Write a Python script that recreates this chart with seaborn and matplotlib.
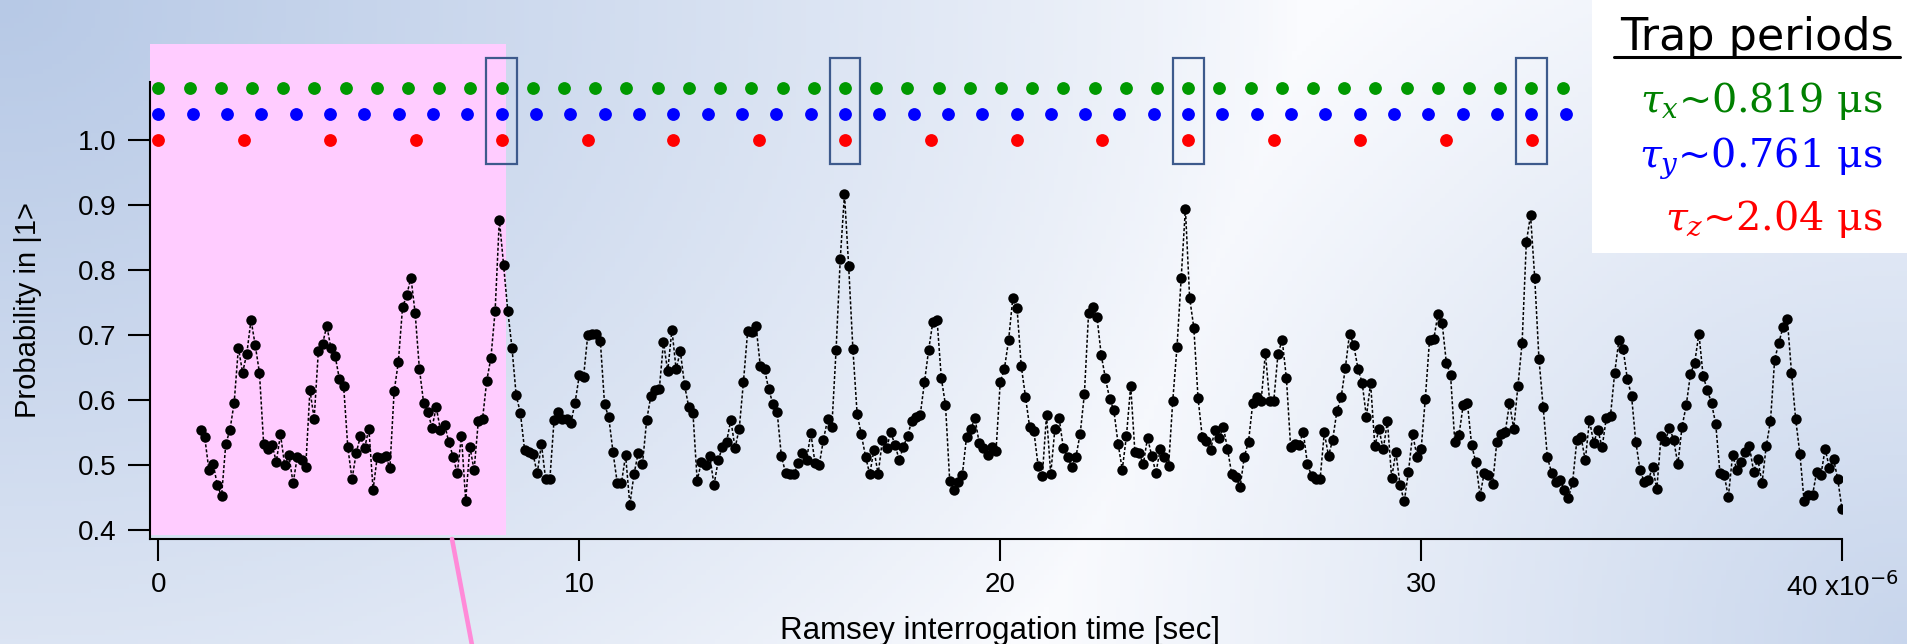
import numpy as np
import matplotlib
matplotlib.use("Agg")
import matplotlib.pyplot as plt
import seaborn as sns
from matplotlib.patches import Rectangle
from matplotlib.lines import Line2D

# measured probability in |1>, one point every 0.1 us starting at 1.0 us
t_start, t_step = 1.0, 0.1
prob = [
    0.553, 0.543, 0.492, 0.502, 0.469, 0.452, 0.532, 0.554, 0.596, 0.680,
    0.642, 0.671, 0.723, 0.684, 0.642, 0.533, 0.524, 0.531, 0.505, 0.547,
    0.500, 0.515, 0.472, 0.513, 0.507, 0.497, 0.615, 0.571, 0.675, 0.686,
    0.714, 0.679, 0.667, 0.632, 0.622, 0.527, 0.478, 0.519, 0.544, 0.526,
    0.556, 0.462, 0.513, 0.510, 0.514, 0.495, 0.613, 0.658, 0.742, 0.761,
    0.788, 0.733, 0.648, 0.596, 0.582, 0.557, 0.589, 0.554, 0.562, 0.535,
    0.513, 0.487, 0.545, 0.445, 0.528, 0.492, 0.567, 0.570, 0.629, 0.665,
    0.737, 0.877, 0.808, 0.737, 0.680, 0.607, 0.580, 0.523, 0.520, 0.517,
    0.487, 0.532, 0.478, 0.478, 0.569, 0.582, 0.570, 0.570, 0.565, 0.596,
    0.638, 0.635, 0.699, 0.702, 0.702, 0.690, 0.593, 0.573, 0.520, 0.473,
    0.472, 0.515, 0.439, 0.486, 0.519, 0.501, 0.569, 0.606, 0.615, 0.616,
    0.689, 0.644, 0.708, 0.647, 0.675, 0.623, 0.589, 0.580, 0.476, 0.505,
    0.500, 0.514, 0.469, 0.507, 0.528, 0.536, 0.569, 0.526, 0.556, 0.628,
    0.706, 0.705, 0.713, 0.652, 0.648, 0.616, 0.594, 0.582, 0.514, 0.488,
    0.486, 0.486, 0.503, 0.518, 0.508, 0.549, 0.503, 0.500, 0.539, 0.570,
    0.559, 0.676, 0.817, 0.916, 0.805, 0.678, 0.579, 0.547, 0.513, 0.486,
    0.523, 0.486, 0.538, 0.526, 0.550, 0.531, 0.508, 0.528, 0.545, 0.568,
    0.573, 0.577, 0.627, 0.677, 0.720, 0.723, 0.634, 0.592, 0.476, 0.461,
    0.474, 0.485, 0.543, 0.555, 0.572, 0.534, 0.526, 0.515, 0.528, 0.521,
    0.627, 0.648, 0.692, 0.757, 0.741, 0.652, 0.605, 0.558, 0.552, 0.499,
    0.483, 0.577, 0.486, 0.556, 0.572, 0.526, 0.513, 0.497, 0.513, 0.548,
    0.609, 0.734, 0.742, 0.727, 0.669, 0.633, 0.602, 0.584, 0.533, 0.493,
    0.545, 0.622, 0.520, 0.518, 0.501, 0.542, 0.514, 0.488, 0.524, 0.512,
    0.498, 0.599, 0.681, 0.787, 0.894, 0.757, 0.711, 0.603, 0.543, 0.537,
    0.523, 0.554, 0.541, 0.559, 0.525, 0.486, 0.482, 0.466, 0.513, 0.536,
    0.595, 0.604, 0.599, 0.672, 0.599, 0.599, 0.671, 0.692, 0.633, 0.528,
    0.532, 0.531, 0.551, 0.501, 0.483, 0.478, 0.478, 0.550, 0.514, 0.539,
    0.583, 0.604, 0.649, 0.702, 0.684, 0.648, 0.626, 0.574, 0.626, 0.529,
    0.555, 0.524, 0.567, 0.480, 0.520, 0.469, 0.444, 0.490, 0.548, 0.513,
    0.524, 0.602, 0.692, 0.693, 0.732, 0.718, 0.657, 0.638, 0.536, 0.546,
    0.592, 0.595, 0.531, 0.504, 0.453, 0.488, 0.485, 0.471, 0.536, 0.547,
    0.551, 0.595, 0.556, 0.621, 0.688, 0.842, 0.884, 0.787, 0.663, 0.589,
    0.512, 0.488, 0.474, 0.477, 0.462, 0.449, 0.474, 0.538, 0.543, 0.507,
    0.569, 0.534, 0.554, 0.527, 0.572, 0.576, 0.642, 0.692, 0.678, 0.632,
    0.606, 0.536, 0.493, 0.474, 0.477, 0.497, 0.463, 0.544, 0.537, 0.557,
    0.539, 0.501, 0.559, 0.592, 0.640, 0.657, 0.702, 0.637, 0.615, 0.595,
    0.563, 0.488, 0.485, 0.451, 0.515, 0.493, 0.504, 0.520, 0.529, 0.490,
    0.509, 0.472, 0.529, 0.567, 0.662, 0.688, 0.712, 0.725, 0.642, 0.570,
    0.517, 0.444, 0.454, 0.454, 0.490, 0.485, 0.525, 0.495, 0.509, 0.478,
    0.432,
]
times = t_start + t_step * np.arange(len(prob))

# rows of markers at multiples of the trap periods (as drawn in the figure)
row_periods = [0.7414, 0.8155, 2.039]
row_levels = [1.079, 1.040, 1.000]
row_last = [33.5, 34.3, 32.7]
row_colors = ["#009900", "#0000ff", "#ff0000"]

# coincidence boxes
box_centers = [8.155, 16.31, 24.465, 32.62]
box_width = 0.73
box_y = (0.963, 1.125)

# shaded region
shade_x = (-0.2, 8.25)
shade_y = (0.3925, 1.147)

trap_title = "Trap periods"
trap_labels = [r"$\tau_x$~0.819 μs", r"$\tau_y$~0.761 μs", r"$\tau_z$~2.04 μs"]
trap_colors = ["#008000", "#0000ff", "#ff0000"]

xticks = [0, 10, 20, 30, 40]
xticklabels = ["0", "10", "20", "30", r"40 x10$^{-6}$"]
yticks = [0.4, 0.5, 0.6, 0.7, 0.8, 0.9, 1.0]

W, H = 1907, 644
sns.set_theme(style="ticks")
plt.rcParams["font.family"] = ["Liberation Sans", "DejaVu Sans"]

fig = plt.figure(figsize=(W / 100, H / 100), dpi=100)

# background gradient
u, v = np.meshgrid(np.linspace(0, 1, 400), np.linspace(0, 1, 140))
w_tl = np.clip(1 - np.sqrt((u / 0.68) ** 2 + (v / 1.6) ** 2), 0, 1) ** 0.8
w_br = 0.75 * np.clip(1 - np.sqrt(((1 - u) / 0.45) ** 2 + ((1 - v) / 1.3) ** 2), 0, 1)
w = np.maximum(w_tl, w_br)[..., None]
base = np.array([250, 251, 254]) / 255
blue = np.array([183, 201, 230]) / 255
grad = base * (1 - w) + blue * w
bg = fig.add_axes([0, 0, 1, 1], zorder=-10)
bg.imshow(grad, extent=(0, 1, 0, 1), aspect="auto", origin="upper")
bg.axis("off")

ylo, yhi = 0.3863, 1.15
ax = fig.add_axes([150 / W, (H - 539) / H, 1692 / W, 497.1 / H])
ax.set_facecolor("none")

ax.add_patch(Rectangle((shade_x[0], shade_y[0]), shade_x[1] - shade_x[0],
                       shade_y[1] - shade_y[0], facecolor="#ffccff",
                       edgecolor="none", zorder=0.5, clip_on=False))

sns.lineplot(x=times, y=prob, ax=ax, color="black", lw=1.1,
             linestyle=(0, (2.0, 1.3)), marker="o", markersize=7.5,
             markeredgewidth=0, zorder=3)

for per, lev, last, col in zip(row_periods, row_levels, row_last, row_colors):
    rt = np.arange(0, last, per)
    sns.scatterplot(x=rt, y=np.full(len(rt), lev), ax=ax, color=col, s=85,
                    linewidth=0, zorder=3, clip_on=False)

for c in box_centers:
    ax.add_patch(Rectangle((c - box_width / 2, box_y[0]), box_width,
                           box_y[1] - box_y[0], facecolor="none",
                           edgecolor="#3d5a8c", lw=1.6, zorder=4,
                           clip_on=False))

ax.set_xlim(-0.2, 40)
ax.set_ylim(ylo, yhi)
ax.set_xticks(xticks)
ax.set_xticklabels(xticklabels)
ax.set_yticks(yticks)
ax.set_yticklabels([f"{t:.1f}" for t in yticks])
sns.despine(ax=ax)
ax.spines["left"].set_bounds(ylo, 1.088)
for s in ["left", "bottom"]:
    ax.spines[s].set_linewidth(1.5)
    ax.spines[s].set_color("black")
ax.tick_params(axis="both", direction="out", length=16, width=1.5,
               colors="black", labelsize=20, pad=8)
ax.set_ylabel("Probability in |1>", fontsize=21, color="black")
ax.yaxis.set_label_coords(-0.064, 0.46)
ax.set_xlabel("Ramsey interrogation time [sec]", fontsize=22.5, color="black")
ax.xaxis.set_label_coords(0.5024, -0.155)

# white legend panel
fig.add_artist(Rectangle((1592 / W, 1 - 253 / H), (W - 1592) / W, 253 / H,
                         transform=fig.transFigure, facecolor="white",
                         edgecolor="none", zorder=5))
fig.text(1757 / W, 1 - 50 / H, trap_title, fontsize=32, family="DejaVu Sans",
         ha="center", va="baseline", color="black", zorder=6)
fig.add_artist(Line2D([1614 / W, 1900 / W], [1 - 57 / H, 1 - 57 / H],
                      transform=fig.transFigure, color="black", lw=2.2,
                      zorder=6))
for lab, col, base_y in zip(trap_labels, trap_colors, [112, 167, 230]):
    fig.text(1883 / W, 1 - base_y / H, lab, fontsize=28.5, family="DejaVu Serif",
             math_fontfamily="dejavuserif", ha="right", va="baseline",
             color=col, zorder=6)

# pink pointer line
fig.add_artist(Line2D([452 / W, 473 / W], [1 - 539 / H, -0.01],
                      transform=fig.transFigure, color="#ff8ad8", lw=3.3,
                      zorder=1))

fig.savefig("out.png", dpi=100)
